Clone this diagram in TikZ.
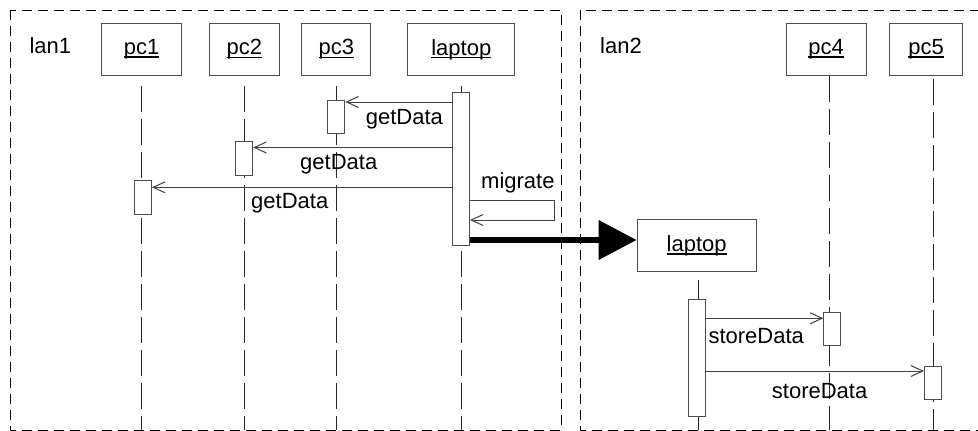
\documentclass[tikz,border=0pt]{standalone}
\usepackage{fontspec}
\setmainfont{Liberation Sans}
\usetikzlibrary{arrows.meta}
\newcommand{\ulname}[1]{\setbox0=\hbox{#1}\rlap{\rule[-3pt]{\wd0}{1.3pt}}\box0}

\begin{document}
\begin{tikzpicture}[x=1pt, y=-1pt, font=\fontsize{22}{26}\selectfont,
    obj/.style={draw=black!70, line width=1pt, fill=white, minimum height=52pt, inner sep=0pt},
    act/.style={draw=black!70, line width=1pt, fill=white, minimum width=17pt, inner sep=0pt},
    lifeline/.style={black!85, line width=1pt, dash pattern=on 26pt off 7pt},
    frame/.style={black, line width=1pt, dash pattern=on 10pt off 6pt},
    msg/.style={black!75, line width=1pt, -{Straight Barb[length=12pt,width=11pt]}},
    move/.style={black, line width=6.7pt, -{Triangle[length=38pt,width=38pt]}},
    txt/.style={inner sep=0pt, anchor=base west}]
    \clip (0,0) rectangle (978,431);

    % frames
    \draw[frame] (10,10) rectangle (561,430);
    \draw[frame] (580,10) rectangle (1000,430);
    \node[txt] (lanone) at (29.3,53.3) {lan1};
    \node[txt] (lantwo) at (600,53.3) {lan2};

    % objects
    \node[obj, minimum width=80pt] (pcone) at (141.7,49.5) {\ulname{pc1}};
    \node[obj, minimum width=70pt] (pctwo) at (244.3,49.5) {\ulname{pc2}};
    \node[obj, minimum width=69pt] (pcthree) at (336.4,49.5) {\ulname{pc3}};
    \node[obj, minimum width=107pt] (laptop) at (461.3,49.5) {\ulname{laptop}};
    \node[obj, minimum width=80pt] (pcfour) at (826,49.5) {\ulname{pc4}};
    \node[obj, minimum width=73pt] (pcfive) at (926,49.5) {\ulname{pc5}};
    \node[obj, minimum width=119pt] (laptoptwo) at (696.7,245.9) {\ulname{laptop}};

    % lifelines
    \coordinate (pcfourtop) at ([xshift=3pt]pcfour.south);
    \coordinate (pcfivetop) at ([xshift=7pt, yshift=-3pt]pcfive.south);
    \coordinate (laptoptwotop) at ([xshift=1.6pt, yshift=-7.6pt]laptoptwo.south);
    \foreach \obj in {pcone, pctwo, pcthree, laptop}
        \draw[lifeline] ([yshift=-10pt]\obj.south) -- (\obj.south |- 0,430);
    \foreach \obj in {pcfourtop, pcfivetop, laptoptwotop}
        \draw[lifeline] (\obj) -- (\obj |- 0,430);

    % activations
    \node[act, minimum height=153pt] (laptopact) at (461,169) {};
    \node[act, minimum height=33pt] (actthree) at (336.4,117) {};
    \node[act, minimum height=34pt] (acttwo) at (244.2,158.7) {};
    \node[act, minimum height=34pt] (actone) at (143,197) {};
    \node[act, minimum height=117pt] (laptoptwoact) at (696.5,358) {};
    \node[act, minimum height=33pt] (actfour) at (832.3,329.4) {};
    \node[act, minimum height=33pt] (actfive) at (933,383.3) {};

    % messages
    \draw[msg] (laptopact.west |- 0,102) -- (actthree.east |- 0,102);
    \draw[msg] (laptopact.west |- 0,147.5) -- (acttwo.east |- 0,147.5);
    \draw[msg] (laptopact.west |- 0,187.3) -- (actone.east |- 0,187.3);
    \coordinate (migr) at (554,200);
    \draw[msg] (laptopact.east |- migr) -- (migr) -- ++(0,20) -- (laptopact.east |- 0,220);
    \draw[move] (laptopact.east |- 0,240) -- (laptoptwo.west |- 0,240);
    \draw[msg] (laptoptwoact.east |- 0,318.3) -- (actfour.west |- 0,318.3);
    \draw[msg] (laptoptwoact.east |- 0,371) -- (actfive.west |- 0,371);

    \node[txt] (getthree) at (365.7,124.3) {getData};
    \node[txt] (gettwo) at (300,169) {getData};
    \node[txt] (getone) at (251,208) {getData};
    \node[txt] (migrate) at (481,188.3) {migrate};
    \node[txt] (storefour) at (708.3,343.3) {storeData};
    \node[txt] (storefive) at (771.7,398.3) {storeData};
\end{tikzpicture}
\end{document}
